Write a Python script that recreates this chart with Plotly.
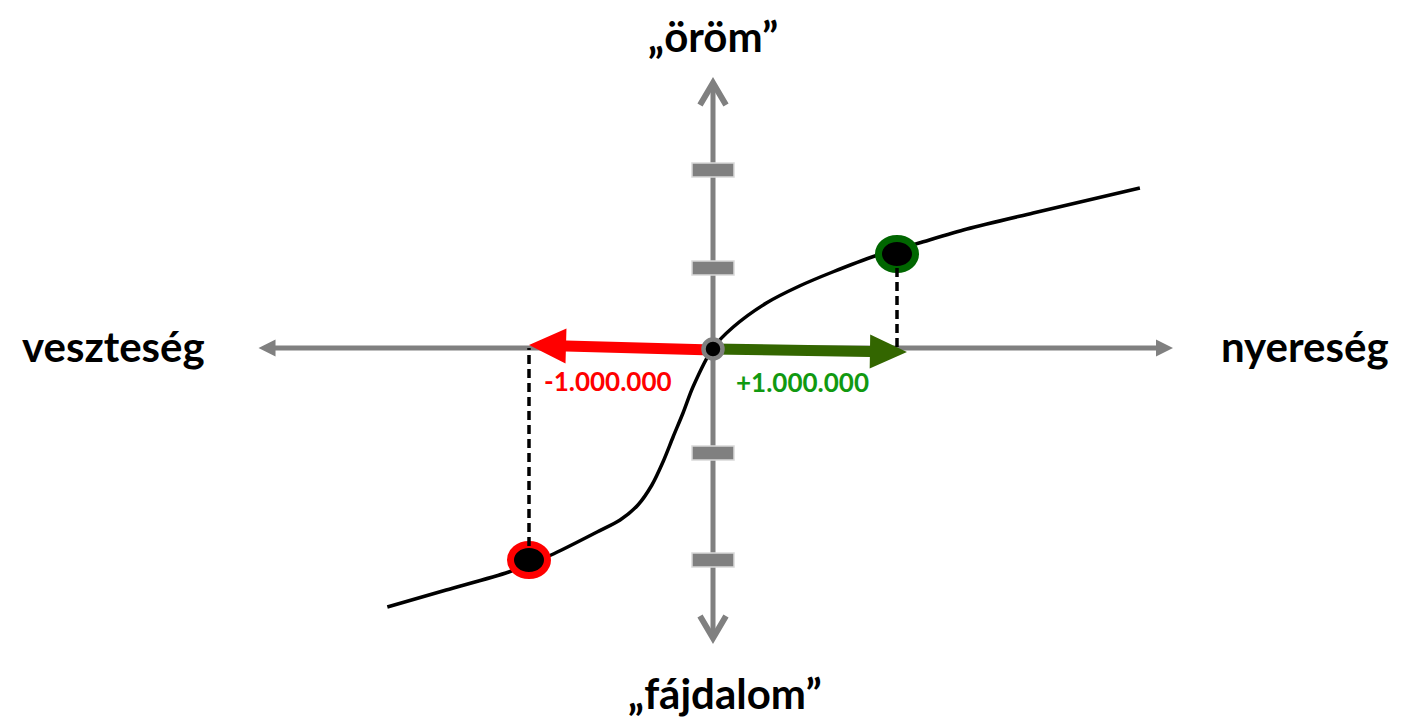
import math
import plotly.graph_objects as go

# value function (x: gain/loss in millions, y: subjective value)
curve_x = [-1.77, -1.45, -1.11, -0.88, -0.63, -0.505, -0.408, -0.332, -0.272, -0.217, -0.163, -0.109, 0.0,
           0.11, 0.29, 0.47, 0.65, 0.88, 1.0, 1.12, 1.38, 1.74, 2.32]
curve_y = [-2.59, -2.42, -2.24, -2.07, -1.84, -1.72, -1.57, -1.37, -1.14, -0.89, -0.65, -0.39, 0.0,
           0.21, 0.45, 0.62, 0.76, 0.92, 0.985, 1.05, 1.19, 1.35, 1.60]

outcome_x = [-1.0, 1.0]
outcome_v = [-2.12, 0.94]
outcome_labels = ["-1.000.000", "+1.000.000"]
tick_y = [1.78, 0.8, -1.05, -2.12]

x_axis_ends = [-2.47, 2.50]
y_axis_ends = [-2.90, 2.65]

axis_labels = ["veszteség", "nyereség", "„öröm”", "„fájdalom”"]

# pixels per unit
SX = 184.0
SY = 100.0
GRAY = "#808080"
FONT = "Lato"


def arrow_poly(x0, y0, x1, y1, w, hl, hw):
    # polygon of a straight arrow, sizes in pixels
    X0, Y0, X1, Y1 = x0 * SX, y0 * SY, x1 * SX, y1 * SY
    L = math.hypot(X1 - X0, Y1 - Y0)
    ux, uy = (X1 - X0) / L, (Y1 - Y0) / L
    nx, ny = -uy, ux
    bx, by = X1 - ux * hl, Y1 - uy * hl
    pts = [(X0 + nx * w / 2, Y0 + ny * w / 2), (bx + nx * w / 2, by + ny * w / 2),
           (bx + nx * hw / 2, by + ny * hw / 2), (X1, Y1),
           (bx - nx * hw / 2, by - ny * hw / 2), (bx - nx * w / 2, by - ny * w / 2),
           (X0 - nx * w / 2, Y0 - ny * w / 2), (X0 + nx * w / 2, Y0 + ny * w / 2)]
    return [p[0] / SX for p in pts], [p[1] / SY for p in pts]


def poly_trace(xs, ys, color):
    return go.Scatter(x=xs, y=ys, mode="lines", fill="toself", fillcolor=color,
                      line=dict(width=0, color=color), hoverinfo="skip", showlegend=False)


fig = go.Figure()

# horizontal axis with filled heads
for xe in x_axis_ends:
    xs, ys = arrow_poly(0, 0, xe, 0, 5, 17, 17)
    fig.add_trace(poly_trace(xs, ys, GRAY))

# vertical axis with open chevrons
fig.add_trace(go.Scatter(x=[0, 0], y=[y_axis_ends[0] + 0.02, y_axis_ends[1] - 0.02], mode="lines",
                         line=dict(color=GRAY, width=5), hoverinfo="skip", showlegend=False))
for ye in y_axis_ends:
    s = 1 if ye > 0 else -1
    fig.add_trace(go.Scatter(x=[-13 / SX, 0, 13 / SX], y=[ye - s * 0.22, ye, ye - s * 0.22],
                             mode="lines", line=dict(color=GRAY, width=6),
                             hoverinfo="skip", showlegend=False))

# value curve
fig.add_trace(go.Scatter(x=curve_x, y=curve_y, mode="lines",
                         line=dict(color="black", width=3.5, shape="spline", smoothing=0.8),
                         hoverinfo="skip", showlegend=False))

# loss / gain arrows
xs, ys = arrow_poly(0, -0.02, outcome_x[0], 0.03, 11, 37, 35)
fig.add_trace(poly_trace(xs, ys, "#ff0000"))
xs, ys = arrow_poly(0, -0.01, outcome_x[1] * 1.054, -0.04, 11, 37, 34)
fig.add_trace(poly_trace(xs, ys, "#336600"))

# origin
fig.add_trace(go.Scatter(x=[0], y=[-0.01], mode="markers",
                         marker=dict(size=19, color="black", line=dict(color=GRAY, width=4.5)),
                         hoverinfo="skip", showlegend=False))

# tick marks on value axis
for ty in tick_y:
    fig.add_shape(type="rect", x0=-21 / SX, x1=21 / SX, y0=ty - 0.07, y1=ty + 0.07,
                  fillcolor=GRAY, line=dict(color="#d9d9d9", width=1.5))

# outcome points
ring_colors = ["#ff0000", "#006600"]
for ox, ov, rc in zip(outcome_x, outcome_v, ring_colors):
    fig.add_shape(type="circle", x0=ox - 18.5 / SX, x1=ox + 18.5 / SX, y0=ov - 0.155, y1=ov + 0.155,
                  fillcolor="black", line=dict(color=rc, width=7))
    fig.add_shape(type="line", x0=ox, x1=ox, y0=ov, y1=0,
                  line=dict(color="black", width=3.5, dash="9px,5px"))

# texts
big = dict(family=FONT, size=42, color="black")
fig.add_annotation(x=x_axis_ends[0], y=0, text="<b>%s</b>" % axis_labels[0], showarrow=False,
                   xanchor="right", xshift=-52, yshift=2, font=big)
fig.add_annotation(x=x_axis_ends[1], y=0, text="<b>%s</b>" % axis_labels[1], showarrow=False,
                   xanchor="left", xshift=46, yshift=2, font=big)
fig.add_annotation(x=0, y=y_axis_ends[1], text="<b>%s</b>" % axis_labels[2], showarrow=False,
                   yanchor="bottom", yshift=20, font=big)
fig.add_annotation(x=0, y=y_axis_ends[0], text="<b>%s</b>" % axis_labels[3], showarrow=False,
                   yanchor="top", xshift=12, yshift=-28, font=big)

num_colors = ["#ff0000", "#119911"]
num_pos = [(-0.571, -0.33), (0.484, -0.34)]
for (px, py), lab, c in zip(num_pos, outcome_labels, num_colors):
    fig.add_annotation(x=px, y=py, text="<b>%s</b>" % lab, showarrow=False,
                       font=dict(family=FONT, size=26, color=c))

fig.update_layout(width=1407, height=721, margin=dict(l=0, r=0, t=0, b=0),
                  paper_bgcolor="white", plot_bgcolor="white",
                  xaxis=dict(range=[-713 / SX, 694 / SX], visible=False),
                  yaxis=dict(range=[-373 / SY, 348 / SY], visible=False))

fig.write_html("out.html", config={"displayModeBar": False},
               post_script="document.body.style.margin='0';")
